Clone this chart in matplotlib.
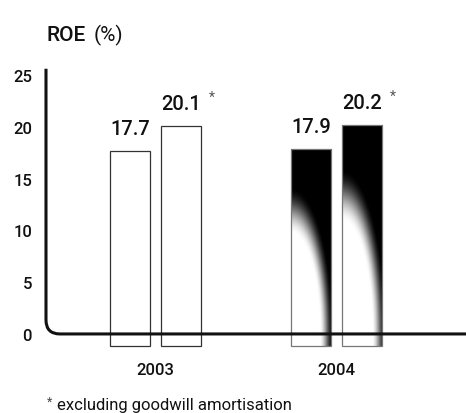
import numpy as np
import matplotlib
matplotlib.use("Agg")
import matplotlib.pyplot as plt
from matplotlib.path import Path
from matplotlib.patches import PathPatch

plt.rcParams['font.family'] = ['Roboto', 'DejaVu Sans']

# Data
years = ["2003", "2004"]
roe_reported = [17.7, 17.9]
roe_excl_goodwill = [20.1, 20.2]
y_ticks = [0, 5, 10, 15, 20, 25]
title_main = "ROE"
title_unit = "(%)"
footnote = "excluding goodwill amortisation"

DPI = 100
fig = plt.figure(figsize=(4.66, 4.14), dpi=DPI)
ax = fig.add_axes([0.0987, 0.1534, 0.9013, 0.6881])
ax.set_xlim(-0.605, 1.715)
ax.set_ylim(-1.5, 26)
for s in ax.spines.values():
    s.set_visible(False)

x = np.arange(len(years))
width = 0.221
offset = 0.141
base = -1.2  # bars run a little below the baseline

ink = "#111111"

# 2003: outlined bars; 2004: dark bars with a light sweep in the lower-left
bars_a = ax.bar(x - offset, np.array(roe_reported) - base, width, bottom=base,
                facecolor="white", edgecolor="#333333", linewidth=0.9, zorder=2)
bars_b = ax.bar(x + offset, np.array(roe_excl_goodwill) - base, width, bottom=base,
                facecolor="white", edgecolor="#333333", linewidth=0.9, zorder=2)


def shade(bar, ax_u, ax_v):
    x0, y0 = bar.get_x(), bar.get_y()
    w, h = bar.get_width(), bar.get_height()
    nu, nv = 80, 300
    u = np.linspace(0, 1, nu)
    v = np.linspace(y0 + h, y0, nv)
    U, V = np.meshgrid(u, v)
    r = np.sqrt((U / ax_u) ** 2 + (np.clip(V, 0, None) / ax_v) ** 2)
    t = np.clip((r - 0.8) / 0.38, 0, 1)
    t = t * t * (3 - 2 * t)
    img = 1 - t
    im = ax.imshow(img, cmap="gray", vmin=0, vmax=1, aspect="auto",
                   extent=(x0, x0 + w, y0, y0 + h), zorder=2.5,
                   interpolation="bilinear")
    im.set_clip_path(bar)
    bar.set_edgecolor("#777777")
    bar.set_zorder(3)
    bar.set_facecolor("none")


shade(bars_a[1], 0.88, 12.0)
shade(bars_b[1], 0.92, 13.5)

# Value labels
lab_kw = dict(ha="center", va="baseline", fontsize=14.5, fontweight="medium",
              color=ink, textcoords="offset points")
for i in range(len(years)):
    ax.annotate(f"{roe_reported[i]:.1f}", (x[i] - offset, roe_reported[i]),
                xytext=(0, 12), **lab_kw)
    ax.annotate(f"{roe_excl_goodwill[i]:.1f}", (x[i] + offset, roe_excl_goodwill[i]),
                xytext=(0, 12), **lab_kw)
    ax.annotate("*", (x[i] + offset, roe_excl_goodwill[i]),
                xytext=(20, 18), ha="left", va="baseline", fontsize=10,
                color="#555555", textcoords="offset points")

# Axis ticks
ax.set_yticks(y_ticks)
ax.set_yticklabels([str(t) for t in y_ticks], fontsize=12, fontweight="medium",
                   color=ink)
ax.tick_params(axis="y", length=0, pad=10)
ax.set_xticks(x)
ax.set_xticklabels(years, fontsize=12, fontweight="medium", color=ink)
ax.tick_params(axis="x", length=0, pad=9)

# Axis line with a rounded corner, drawn in pixel space
fig.canvas.draw()
px0, py0 = ax.transData.transform((ax.get_xlim()[0], 0))
_, pytop = ax.transData.transform((0, 25.6))
pxr = fig.bbox.width
rad = 14
verts = [(px0, pytop), (px0, py0 + rad), (px0, py0), (px0 + rad, py0), (pxr, py0)]
codes = [Path.MOVETO, Path.LINETO, Path.CURVE3, Path.CURVE3, Path.LINETO]
axis_line = PathPatch(Path(verts, codes), transform=None, facecolor="none",
                      edgecolor=ink, linewidth=2.2, capstyle="butt", zorder=4)
axis_line.set_clip_on(False)
fig.add_artist(axis_line)

# Title
t1 = fig.text(47 / 466, 1 - 41 / 414, title_main, fontsize=15, fontweight="medium",
              color=ink, ha="left", va="baseline")
fig.canvas.draw()
bb = t1.get_window_extent()
fig.text((bb.x1 + 7) / fig.bbox.width, 1 - 41 / 414, title_unit, fontsize=15,
         fontweight="normal", color=ink, ha="left", va="baseline")

# Footnote
fig.text(47 / 466, 1 - 406 / 414, "*", fontsize=9, color="#444444",
         ha="left", va="baseline")
fig.text(57 / 466, 1 - 410 / 414, footnote, fontsize=12, color=ink,
         ha="left", va="baseline")

fig.savefig("out.png", dpi=DPI)
